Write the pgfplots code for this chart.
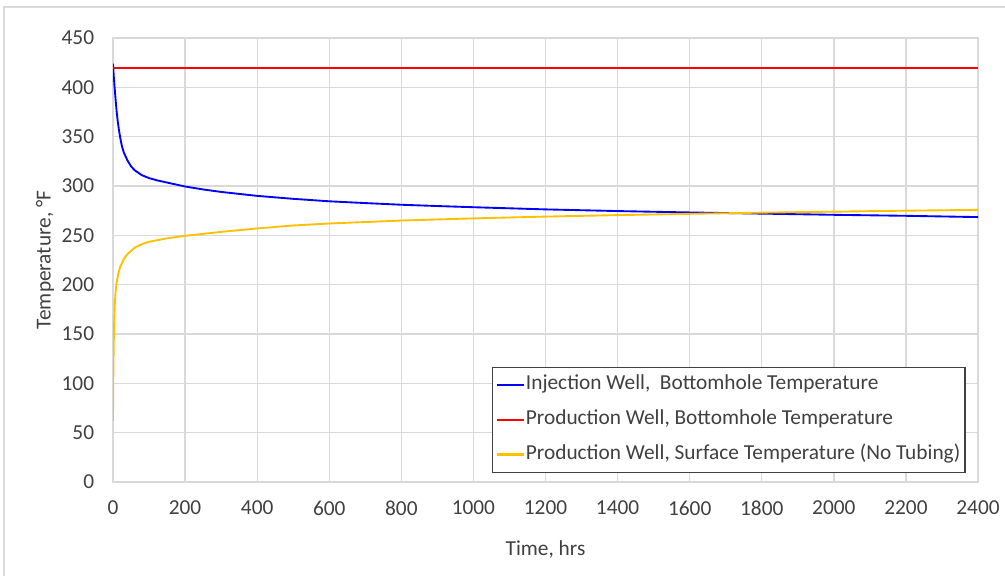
\documentclass[border=0pt]{standalone}
\usepackage{pgfplots}
\pgfplotsset{compat=1.18}
\usepackage{fontspec}
\setmainfont{Carlito}
\definecolor{gridc}{HTML}{D9D9D9}
\definecolor{txt}{HTML}{404040}
\definecolor{yel}{HTML}{FFC000}
\begin{document}
\begin{tikzpicture}[x=0.75pt,y=0.75pt]
\useasboundingbox (0,0) rectangle (1005,576);
\draw[gridc,line width=1.5pt] (4,0) -- (4,569) -- (1005,569);
\begin{axis}[
  at={(84.75pt,70.5pt)}, anchor=south west,
  scale only axis, width=648.75pt, height=333pt,
  xmin=0, xmax=2400, ymin=0, ymax=450,
  xtick={0,200,...,2400}, ytick={0,50,...,450},
  major tick length=0pt,
  grid=major,
  major grid style={gridc, line width=1pt},
  axis line style={gridc, line width=1pt},
  tick label style={font=\fontsize{16}{19}\selectfont, text=txt},
  /pgf/number format/assume math mode=true,
  /pgf/number format/1000 sep={},
  yticklabel style={inner sep=0pt, xshift=-14pt},
  xticklabel style={inner sep=0pt, yshift=-14pt},
  xlabel={Time, hrs}, ylabel={Temperature, °F},
  label style={font=\fontsize{16}{19}\selectfont, text=txt},
  xlabel style={at={(axis description cs:0.5,-0.153)}, anchor=center},
  ylabel style={at={(axis description cs:-0.0786,0.5)}, anchor=center},
  legend cell align=left,
  legend image code/.code={\draw[#1, line width=1.6pt] (0pt,0pt) -- (20pt,0pt);},
  legend style={at={(0.438,0.26)}, anchor=north west, draw=txt, line width=0.9pt, fill=white,
    font=\fontsize{16}{19}\selectfont\color{txt}, inner xsep=2.5pt, inner ysep=5pt, row sep=9pt,
    nodes={inner sep=1pt, text height=11pt, text depth=4pt}},
  every axis plot/.append style={line width=1.4pt},
]
\addplot[color=blue, line width=1.4pt] coordinates {(0,424)(1,418)(2,412)(4,402)(6,393)(8,384)(10,376)(13,366)(16,358)(20,349)(25,340)(30,334)(40,326)(50,320)(60,316)(80,311)(100,308)(125,305.5)(150,303.5)(200,299.5)(250,296.5)(300,294)(400,290)(500,287)(600,284.5)(700,282.7)(800,281)(900,279.7)(1000,278.5)(1200,276.3)(1400,274.6)(1600,273.2)(1800,272)(2000,270.8)(2200,269.8)(2400,268.5)};
\addlegendentry{Injection Well,\ \ Bottomhole Temperature}
\addplot[color=red, line width=1.4pt] coordinates {(0,420)(2400,420)};
\addlegendentry{Production Well, Bottomhole Temperature}
\addplot[color=yel, line width=1.4pt] coordinates {(0,62)(0.5,90)(1,112)(2,140)(3,158)(4,170)(5,180)(7,192)(10,202)(15,212)(20,218)(30,226)(40,231)(60,237.5)(80,241)(100,243.5)(150,247)(200,249.5)(250,251.5)(300,253.5)(400,257)(500,260)(600,262)(700,263.5)(800,265)(1000,267.2)(1200,269)(1400,270.5)(1600,271.8)(1800,273)(2000,274)(2200,275)(2400,275.8)};
\addlegendentry{Production Well, Surface Temperature (No Tubing)}
\end{axis}
\end{tikzpicture}
\end{document}
